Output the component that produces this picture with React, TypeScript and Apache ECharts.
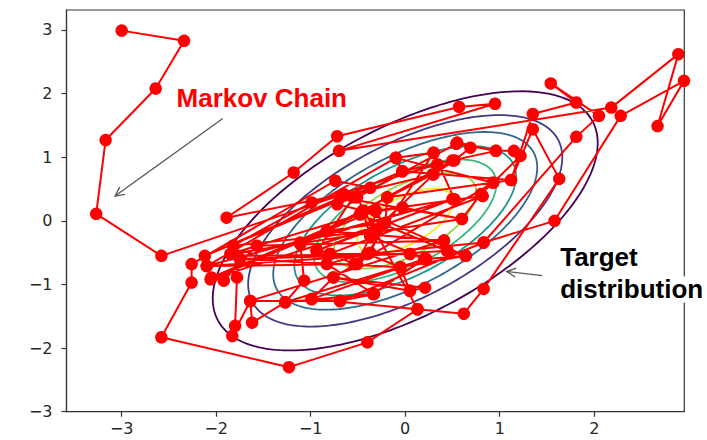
import React, { useEffect, useRef } from 'react';
import * as echarts from 'echarts';

// ---- axes ----
const xTicks = [-3, -2, -1, 0, 1, 2];
const yTicks = [-3, -2, -1, 0, 1, 2, 3];
const xRange = [-3.584, 2.953];
const yRange = [-3, 3.314];

// ---- target distribution (2D Gaussian) ----
const targetMean = [0, 0];
const targetStd = [1, 1];
const targetRho = 0.6;
const contourLevels = [0.025, 0.05, 0.075, 0.1, 0.125, 0.15, 0.175];
const contourColors = ['#440154', '#443983', '#31688e', '#21918c', '#35b779', '#90d743', '#fde725'];

// ---- Markov chain samples (in order) ----
const chainX = [
  -3.0, -2.34, -2.64, -3.17, -3.27, -2.58, -0.65, -1.89, -1.18, -0.72,
  0.57, 0.95, -0.70, 2.18, 2.89, 2.67, 2.95, 2.28, 1.58, 0.83,
  1.81, 2.05, 1.54, 1.81, 1.35, 1.12, 1.35, 1.63, 0.83, 0.62,
  0.13, -0.40, -1.23, -2.58, -2.26, -2.26, -0.74, -0.37, -2.12, -0.03,
  -0.10, -2.10, 0.52, 0.30, 0.34, -0.99, -1.82, -0.33, 0.30, 0.52,
  0.69, 0.55, 0.96, 1.15, 1.22, 0.93, 0.80, 0.60, -0.03, -0.47,
  -2.05, -1.92, -1.57, 0.41, 0.45, 0.64, 0.22, 0.05, -1.77, -1.78,
  -1.80, -1.83, -1.64, -1.62, -1.27, -1.07, -1.11, -0.83, -0.21, -0.19,
  -0.44, -0.72, -0.55, -0.93, -0.79, -0.54, -0.40, -0.05, 0.05, 0.21,
  -0.76, -0.99, -0.69, -0.33, -0.83, -0.37, -0.23, -0.31, -0.37, -0.51,
  -2.10, 0.44, -0.48, -1.85, 0.60, -0.69, 0.29, -1.11, 0.50, -0.94,
  -0.23, -2.06, -0.32, 0.82, -0.80, 0.05, -1.75, -0.05, 0.64, -0.45,
  -0.37, 0.22, -1.27, -0.34, 0.20, -0.99, 0.13, -0.51, 0.54, 0.96,
  -0.03, 1.12, -0.19, 0.50, -0.83, 0.41, -1.64, -0.69, 0.83, -0.40,
  0.30, -0.10, 0.93, -0.76, 0.05,
];
const chainY = [
  2.99, 2.83, 2.08, 1.27, 0.11, -0.55, 0.42, 0.05, 0.76, 1.33,
  1.79, 1.84, 1.10, 1.78, 2.62, 1.49, 2.20, 1.65, 0.00, -0.34,
  1.32, 1.65, 2.16, 1.86, 1.68, 0.64, 1.44, 0.66, -1.07, -1.46,
  -1.39, -1.91, -2.30, -1.83, -0.97, -0.68, 0.63, 0.52, -0.55, 0.78,
  0.99, -0.71, 0.34, 1.07, 0.89, 0.29, -0.39, -0.16, 0.73, 0.95,
  1.15, 1.23, 1.10, 1.10, 1.02, 0.60, 0.42, 0.03, 0.21, 0.11,
  -0.89, -0.94, -0.39, -0.31, -0.47, -0.55, -0.60, -0.52, -0.55, -0.89,
  -1.65, -1.81, -1.26, -1.60, -1.28, -0.94, -0.37, -0.16, -0.03, 0.37,
  0.16, 0.26, 0.37, -0.47, -0.52, -0.68, -0.52, -0.73, -1.10, -1.05,
  -0.89, -1.23, -1.26, -1.15, -0.68, -0.50, -0.05, 0.16, -0.24, -0.68,
  -0.71, -0.47, 0.10, -0.52, 0.03, 0.37, 0.73, -0.34, 0.34, -0.47,
  -0.05, -0.92, 0.16, 0.39, -0.52, -0.52, -0.60, -0.73, -0.55, 0.16,
  -0.24, -0.60, -1.28, -1.15, -0.60, -1.23, -1.39, 0.37, 1.21, 1.10,
  0.78, 0.64, 0.37, 0.95, -0.16, -0.31, -1.26, -1.26, -0.34, -0.52,
  1.07, 0.99, 0.60, -0.89, -1.10,
];

// ---- annotations (data coordinates) ----
const markovText = 'Markov Chain';
const markovTextPos = [-2.42, 2.14];
const markovArrowTail = [-1.93, 1.61];
const markovArrowTip = [-3.07, 0.39];
const targetText = ['Target', 'distribution'];
const targetTextPos = [1.64, -0.37];
const targetArrowTail = [1.45, -0.86];
const targetArrowTip = [1.074, -0.796];

const fmt = (v: number) => (v < 0 ? '\u2212' + Math.abs(v) : String(v));

export default function App() {
  const ref = useRef<HTMLDivElement>(null);
  useEffect(() => {
    document.body.style.margin = '0';
    const chart = echarts.init(ref.current!, null, { renderer: 'svg' });
    const chainData = chainX.map((x, i) => [x, chainY[i]]);
    const axisCommon = {
      type: 'value',
      axisLine: { show: true, onZero: false, lineStyle: { color: '#333', width: 1.2 } },
      splitLine: { show: false },
    };
    chart.setOption({
      animation: false,
      backgroundColor: '#fff',
      grid: { left: 66.5, right: 22.7, top: 10, bottom: 28.3, show: true, borderColor: '#333', borderWidth: 1.2 },
      xAxis: {
        ...axisCommon,
        min: xRange[0],
        max: xRange[1],
        axisTick: { show: true, length: 5, lineStyle: { color: '#333', width: 1.2 }, customValues: xTicks },
        axisLabel: { customValues: xTicks, formatter: fmt, fontSize: 16, fontFamily: 'DejaVu Sans', color: '#262626', margin: 9 },
      },
      yAxis: {
        ...axisCommon,
        min: yRange[0],
        max: yRange[1],
        axisTick: { show: true, length: 5, lineStyle: { color: '#333', width: 1.2 }, customValues: yTicks },
        axisLabel: { customValues: yTicks, formatter: fmt, fontSize: 16, fontFamily: 'DejaVu Sans', color: '#262626', margin: 14 },
      },
      series: [
        {
          type: 'custom',
          clip: true,
          z: 1,
          silent: true,
          data: contourLevels.map((lv) => [targetMean[0], targetMean[1], lv]),
          encode: { x: 0, y: 1 },
          renderItem: (params: any, api: any) => {
            const level = api.value(2);
            const [sx, sy] = targetStd;
            const rho = targetRho;
            const s = Math.sqrt(1 - rho * rho);
            const peak = 1 / (2 * Math.PI * sx * sy * s);
            const r = Math.sqrt(-2 * Math.log(level / peak));
            const pts: number[][] = [];
            for (let k = 0; k <= 240; k++) {
              const t = (2 * Math.PI * k) / 240;
              const u = r * Math.cos(t);
              const v = r * Math.sin(t);
              pts.push(api.coord([targetMean[0] + sx * u, targetMean[1] + sy * (rho * u + s * v)]));
            }
            return {
              type: 'polyline',
              shape: { points: pts },
              style: { stroke: contourColors[params.dataIndex], fill: 'none', lineWidth: 1.8 },
            };
          },
        },
        {
          type: 'line',
          data: chainData,
          z: 3,
          clip: true,
          symbol: 'circle',
          symbolSize: 12.5,
          showAllSymbol: true,
          lineStyle: { color: '#ff0000', width: 2 },
          itemStyle: { color: '#ff0000' },
        },
      ],
    });

    const px = (p: number[]) => chart.convertToPixel({ gridIndex: 0 }, p) as number[];
    const arrow = (tail: number[], tip: number[]) => {
      const a = px(tail);
      const b = px(tip);
      const dx = b[0] - a[0];
      const dy = b[1] - a[1];
      const len = Math.hypot(dx, dy);
      const ux = dx / len, uy = dy / len;
      const L = 9, W = 4.5;
      return [
        { type: 'line', z: 100, shape: { x1: a[0], y1: a[1], x2: b[0], y2: b[1] }, style: { stroke: '#555', lineWidth: 1.3 } },
        {
          type: 'polyline', z: 100,
          shape: { points: [[b[0] - ux * L - uy * W, b[1] - uy * L + ux * W], b, [b[0] - ux * L + uy * W, b[1] - uy * L - ux * W]] },
          style: { stroke: '#555', lineWidth: 1.3, fill: 'none' },
        },
      ];
    };
    const mPos = px(markovTextPos);
    const tPos = px(targetTextPos);
    chart.setOption({
      graphic: [
        ...arrow(markovArrowTail, markovArrowTip),
        ...arrow(targetArrowTail, targetArrowTip),
        {
          type: 'text', z: 100, x: mPos[0], y: mPos[1],
          style: { text: markovText, fill: '#ff0000', font: 'bold 26px "Liberation Sans", Arial, sans-serif', verticalAlign: 'top' },
        },
        {
          type: 'text', z: 100, x: tPos[0], y: tPos[1],
          style: { text: targetText[0], fill: '#000', font: 'bold 26px "Liberation Sans", Arial, sans-serif', verticalAlign: 'top' },
        },
        {
          type: 'text', z: 100, x: tPos[0], y: tPos[1] + 32,
          style: { text: targetText[1], fill: '#000', font: 'bold 26px "Liberation Sans", Arial, sans-serif', verticalAlign: 'top', backgroundColor: '#fff' },
        },
      ],
    });
    return () => chart.dispose();
  }, []);
  return <div ref={ref} style={{ width: 707, height: 440 }} />;
}
